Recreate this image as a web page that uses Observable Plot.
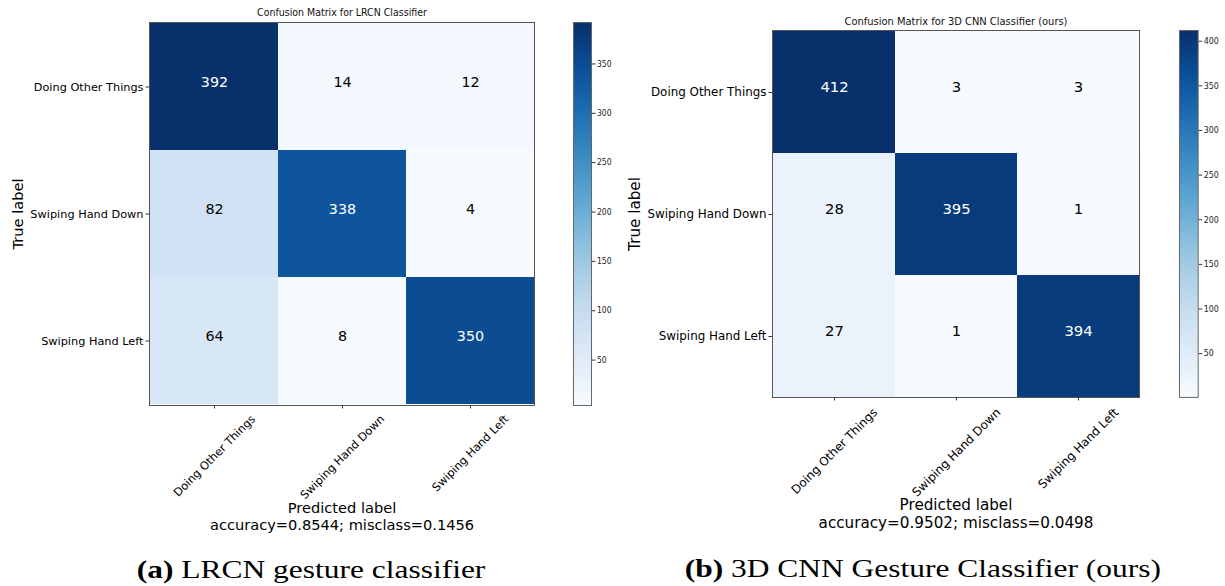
<!DOCTYPE html>
<html>
<head>
<meta charset="utf-8">
<script src="https://cdn.jsdelivr.net/npm/d3@7"></script>
<script src="https://cdn.jsdelivr.net/npm/@observablehq/plot@0.6"></script>
<style>
  html, body { margin: 0; padding: 0; background: #fff; }
  #page { position: relative; width: 1225px; height: 586px; overflow: hidden; font-family: "DejaVu Sans", sans-serif; }
  #page > svg { position: absolute; top: 0; }
  .caption { position: absolute; width: 640px; text-align: center; white-space: nowrap;
             font-family: "Liberation Serif", "Times New Roman", serif; font-size: 26px; line-height: 26px; color: #000; }
  .caption span { display: inline-block; transform: scaleX(1.21); }
</style>
</head>
<body>
<div id="page"></div>
<script>
// Gesture classes (rows = true label, columns = predicted label)
const classes = ["Doing Other Things", "Swiping Hand Down", "Swiping Hand Left"];

// LRCN classifier counts
const lrcnCounts = [
  [392, 14, 12],
  [82, 338, 4],
  [64, 8, 350]
];
const lrcnTitle = "Confusion Matrix for LRCN Classifier";
const lrcnScore = "accuracy=0.8544; misclass=0.1456";
const lrcnBarTicks = [50, 100, 150, 200, 250, 300, 350];

// 3D CNN classifier counts
const cnnCounts = [
  [412, 3, 3],
  [28, 395, 1],
  [27, 1, 394]
];
const cnnTitle = "Confusion Matrix for 3D CNN Classifier (ours)";
const cnnScore = "accuracy=0.9502; misclass=0.0498";
const cnnBarTicks = [50, 100, 150, 200, 250, 300, 350, 400];

const trueLabel = "True label";
const predLabel = "Predicted label";

const page = document.getElementById("page");
const condensed = '"DejaVu Sans Condensed", "Liberation Sans Narrow", "DejaVu Sans", sans-serif';

function toCells(counts) {
  return counts.flatMap((row, i) => row.map((v, j) => ({actual: classes[i], predicted: classes[j], value: v})));
}

// One confusion-matrix panel: heatmap, counts, axes and labels
function matrixPanel(counts, title, score, L) {
  const cells = toCells(counts);
  const lo = d3.min(cells, d => d.value), hi = d3.max(cells, d => d.value);
  const thresh = hi / 2;

  // rotated category labels, centred under each tick like matplotlib's rotation=45
  const ctx = document.createElement("canvas").getContext("2d");
  ctx.font = `${L.tickFont}px "DejaVu Sans"`;
  const xLabels = classes.map(c => {
    const w = ctx.measureText(c).width;
    const half = (w + 1.17 * L.tickFont) * Math.SQRT1_2 / 2;
    return Plot.text([c], {
      x: d => d, text: d => d, frameAnchor: "bottom", rotate: -45,
      textAnchor: "middle", lineAnchor: "middle", dy: L.xPad + half,
      fontSize: L.tickFont, fill: "black"
    });
  });

  const svg = Plot.plot({
    width: L.width, height: L.height,
    marginLeft: L.left, marginRight: L.right, marginTop: L.top, marginBottom: L.bottom,
    style: {fontFamily: "DejaVu Sans", color: "black", background: "transparent", overflow: "visible"},
    x: {domain: classes, padding: 0},
    y: {domain: classes, padding: 0},
    color: {type: "linear", scheme: "blues", domain: [lo, hi]},
    marks: [
      Plot.cell(cells, {x: "predicted", y: "actual", fill: "value", inset: 0}),
      Plot.frame({stroke: "#555", strokeWidth: 1}),
      Plot.text(cells.filter(d => d.value > thresh), {x: "predicted", y: "actual", text: d => String(d.value), fill: "white", fontSize: L.numFont, dy: L.numDy}),
      Plot.text(cells.filter(d => d.value <= thresh), {x: "predicted", y: "actual", text: d => String(d.value), fill: "black", fontSize: L.numFont, dy: L.numDy}),
      Plot.axisY({tickSize: 3.5, tickPadding: 2.5, fontSize: L.tickFont, label: null, stroke: "#333"}),
      Plot.axisX({tickSize: 3.5, tickFormat: () => "", label: null, stroke: "#333"}),
      ...xLabels,
      Plot.text([title], {text: d => d, frameAnchor: "top", textAnchor: "middle", lineAnchor: "middle", dy: L.titleDy, fontSize: L.titleFont, fontFamily: condensed, fill: "#111"}),
      Plot.text([trueLabel], {text: d => d, frameAnchor: "left", textAnchor: "middle", lineAnchor: "middle", rotate: -90, dx: L.yLabelDx, fontSize: L.labelFont, fill: "black"}),
      Plot.text([predLabel], {text: d => d, frameAnchor: "bottom", textAnchor: "middle", lineAnchor: "middle", dy: L.predDy, fontSize: L.labelFont, fill: "black"}),
      Plot.text([score], {text: d => d, frameAnchor: "bottom", textAnchor: "middle", lineAnchor: "middle", dy: L.scoreDy, fontSize: L.labelFont, fill: "black"})
    ]
  });
  svg.style.left = L.x + "px";
  page.appendChild(svg);

  // colour bar beside the matrix
  const n = 256;
  const ramp = d3.range(n).map(i => ({a: lo + (hi - lo) * i / n, b: lo + (hi - lo) * (i + 1) / n}));
  const bar = Plot.plot({
    width: L.barWidth + 34, height: L.height,
    marginLeft: 0, marginRight: 34, marginTop: L.top, marginBottom: L.bottom,
    style: {fontFamily: condensed, color: "#222", background: "transparent", overflow: "visible"},
    x: {domain: [0, 1], axis: null},
    y: {domain: [lo, hi]},
    color: {type: "linear", scheme: "blues", domain: [lo, hi]},
    marks: [
      Plot.rect(ramp, {x1: 0, x2: 1, y1: "a", y2: "b", fill: d => (d.a + d.b) / 2, inset: 0, shapeRendering: "crispEdges"}),
      Plot.frame({stroke: "#666", strokeWidth: 1}),
      Plot.axisY(L.barTicks, {anchor: "right", tickSize: 3.5, tickPadding: 2, fontSize: L.barFont, label: null, stroke: "#333"})
    ]
  });
  bar.style.left = L.barX + "px";
  page.appendChild(bar);
}

matrixPanel(lrcnCounts, lrcnTitle, lrcnScore, {
  x: 0, width: 612, height: 545, left: 149, right: 78, top: 22, bottom: 140,
  tickFont: 11.3, numFont: 14.3, numDy: -5, labelFont: 14.6, titleFont: 10.5,
  titleDy: -10, yLabelDx: -131, predDy: 103, scoreDy: 120, xPad: 7,
  barX: 573, barWidth: 18, barTicks: lrcnBarTicks, barFont: 8.5
});

matrixPanel(cnnCounts, cnnTitle, cnnScore, {
  x: 612, width: 613, height: 545, left: 160, right: 86, top: 30, bottom: 148,
  tickFont: 11.9, numFont: 14.8, numDy: -5, labelFont: 15.2, titleFont: 11,
  titleDy: -9.5, yLabelDx: -137.5, predDy: 108, scoreDy: 125.5, xPad: 8,
  barX: 1179, barWidth: 18.7, barTicks: cnnBarTicks, barFont: 8.8
});

// sub-figure captions
function caption(html, cx, top) {
  const div = document.createElement("div");
  div.className = "caption";
  div.style.left = (cx - 320) + "px";
  div.style.top = top + "px";
  div.innerHTML = `<span>${html}</span>`;
  page.appendChild(div);
}
caption("<b>(a)</b> LRCN gesture classifier", 311.5, 557);
caption("<b>(b)</b> 3D CNN Gesture Classifier (ours)", 923, 556);
</script>
</body>
</html>
